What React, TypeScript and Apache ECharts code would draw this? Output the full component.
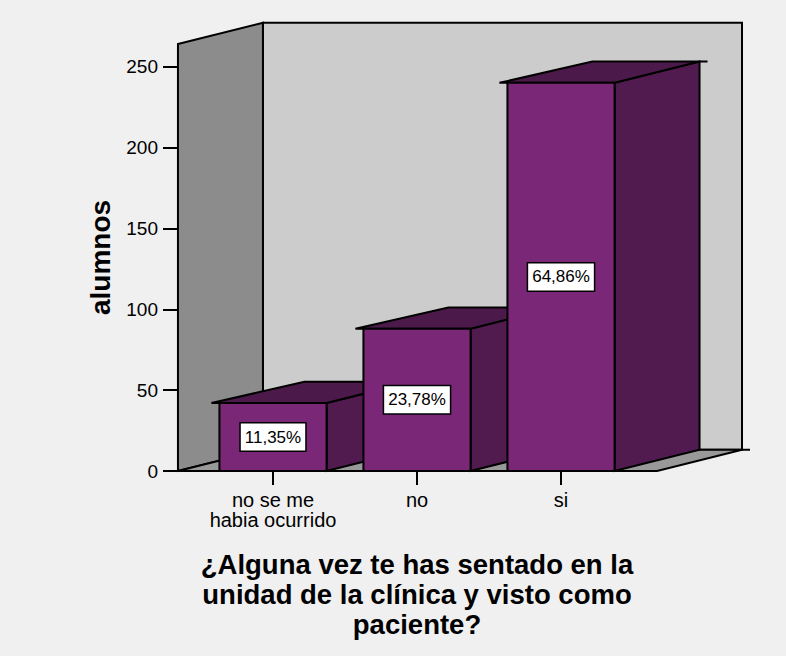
import React, { useEffect, useRef } from "react";
import * as echarts from "echarts";

// Students per answer
const CATEGORIES = ["no se me\nhabia ocurrido", "no", "si"];
const ALUMNOS = [42, 88, 240];
const Y_TICKS = [0, 50, 100, 150, 200, 250];
const Y_MAX = 264;
const X_TITLE =
  "¿Alguna vez te has sentado en la\nunidad de la clínica y visto como\npaciente?";
const Y_TITLE = "alumnos";

const TOTAL = ALUMNOS.reduce((a, b) => a + b, 0);
const pctLabel = (v: number) =>
  ((v / TOTAL) * 100).toFixed(2).replace(".", ",") + "%";

const FONT = "'Liberation Sans', Arial, Helvetica, sans-serif";
const COLORS = {
  front: "#7a2778",
  side: "#521b50",
  top: "#4c1a4a",
  leftWall: "#8c8c8c",
  backWall: "#cccccc",
  floor: "#999999",
  edge: "#000000",
  bg: "#f0f0f0",
};

// 3D box proportions, expressed relative to the category band width
const DEPTH = 0.59; // horizontal depth offset
const RISE = 0.25; // vertical lift per unit of depth
const BAR_HALF = 0.372; // half of the bar front width
const WALL_PAD_L = 0.66; // frame extension left of the first band centre
const WALL_PAD_R = 0.667; // frame extension right of the last band centre
const OVERSHOOT = 8; // edge overshoot on the top faces, px

const edgeStyle = { stroke: COLORS.edge, lineWidth: 2, lineJoin: "miter" as const };

const renderFrame = (_params: any, api: any) => {
  const band = api.size([1, 0])[0];
  const dx = band * DEPTH;
  const dy = -dx * RISE;
  const [xFirst, y0] = api.coord([0, 0]);
  const [xLast, yTop] = api.coord([CATEGORIES.length - 1, Y_MAX]);
  const xL = xFirst - band * WALL_PAD_L;
  const xR = xLast + band * WALL_PAD_R;
  return {
    type: "group",
    children: [
      {
        type: "polygon",
        shape: {
          points: [
            [xL + dx, yTop + dy],
            [xR + dx, yTop + dy],
            [xR + dx, y0 + dy],
            [xL + dx, y0 + dy],
          ],
        },
        style: { fill: COLORS.backWall, ...edgeStyle },
      },
      {
        type: "polygon",
        shape: {
          points: [
            [xL, yTop],
            [xL + dx, yTop + dy],
            [xL + dx, y0 + dy],
            [xL, y0],
          ],
        },
        style: { fill: COLORS.leftWall, ...edgeStyle },
      },
      {
        type: "polygon",
        shape: {
          points: [
            [xL, y0],
            [xR, y0],
            [xR + dx, y0 + dy],
            [xR + dx + OVERSHOOT, y0 + dy],
            [xL + dx, y0 + dy],
          ],
        },
        style: { fill: COLORS.floor, ...edgeStyle },
      },
    ],
  };
};

const renderBar = (_params: any, api: any) => {
  const i = api.value(0);
  const v = api.value(1);
  const band = api.size([1, 0])[0];
  const dx = band * DEPTH;
  const dy = -dx * RISE;
  const [cx, top] = api.coord([i, v]);
  const [, base] = api.coord([i, 0]);
  const hw = band * BAR_HALF;
  const xl = cx - hw;
  const xr = cx + hw;
  return {
    type: "group",
    children: [
      {
        type: "polygon",
        shape: {
          points: [
            [xr, top],
            [xr + dx, top + dy],
            [xr + dx, base + dy],
            [xr, base],
          ],
        },
        style: { fill: COLORS.side, ...edgeStyle },
      },
      {
        type: "polygon",
        shape: {
          points: [
            [xl - OVERSHOOT, top],
            [xr, top],
            [xr + dx, top + dy],
            [xr + dx + OVERSHOOT, top + dy],
            [xl + dx, top + dy],
          ],
        },
        style: { fill: COLORS.top, ...edgeStyle },
      },
      {
        type: "rect",
        shape: { x: xl, y: top, width: xr - xl, height: base - top },
        style: { fill: COLORS.front, ...edgeStyle },
      },
      {
        type: "text",
        x: cx,
        y: (top + base) / 2,
        style: {
          text: pctLabel(v),
          fill: "#000",
          fontSize: 17,
          fontFamily: FONT,
          lineHeight: 19,
          align: "center",
          verticalAlign: "middle",
          backgroundColor: "#ffffff",
          borderColor: "#000000",
          borderWidth: 1.5,
          padding: [4, 4],
        },
      },
    ],
  };
};

export default function App() {
  const ref = useRef<HTMLDivElement>(null);

  useEffect(() => {
    if (!ref.current) return;
    const chart = echarts.init(ref.current, undefined, { renderer: "svg" });
    chart.setOption({
      animation: false,
      backgroundColor: COLORS.bg,
      textStyle: { fontFamily: FONT },
      grid: { left: 201, top: 44, width: 432, height: 427 },
      xAxis: {
        type: "category",
        data: CATEGORIES,
        boundaryGap: true,
        axisLine: { show: false },
        axisTick: {
          show: true,
          alignWithLabel: true,
          length: 14,
          lineStyle: { color: "#000", width: 2 },
        },
        axisLabel: {
          color: "#000",
          fontSize: 20,
          lineHeight: 20,
          margin: 19,
          interval: 0,
          fontFamily: FONT,
        },
        splitLine: { show: false },
        name: X_TITLE,
        nameLocation: "middle",
        nameGap: 78,
        nameTextStyle: {
          color: "#000",
          fontSize: 27.5,
          fontWeight: "bold",
          lineHeight: 30,
          fontFamily: FONT,
        },
      },
      yAxis: {
        type: "value",
        min: 0,
        max: Y_MAX,
        interval: 50,
        offset: 23,
        axisLine: { show: false },
        axisTick: {
          show: true,
          length: 15,
          customValues: Y_TICKS,
          lineStyle: { color: "#000", width: 2 },
        },
        axisLabel: {
          customValues: Y_TICKS,
          color: "#000",
          fontSize: 19,
          margin: 20,
          fontFamily: FONT,
        },
        splitLine: { show: false },
        name: Y_TITLE,
        nameLocation: "middle",
        nameRotate: 90,
        nameGap: 64,
        nameTextStyle: {
          color: "#000",
          fontSize: 28,
          fontWeight: "bold",
          fontFamily: FONT,
        },
      },
      series: [
        {
          type: "custom",
          silent: true,
          clip: false,
          renderItem: renderFrame,
          data: [[0, 0]],
          encode: { x: 0, y: 1 },
          z: 1,
        },
        {
          type: "custom",
          clip: false,
          renderItem: renderBar,
          data: ALUMNOS.map((v, i) => [i, v]),
          encode: { x: 0, y: 1 },
          z: 2,
        },
      ],
    });
    return () => chart.dispose();
  }, []);

  return (
    <div
      ref={ref}
      style={{ position: "fixed", left: 0, top: 0, width: 786, height: 656 }}
    />
  );
}
